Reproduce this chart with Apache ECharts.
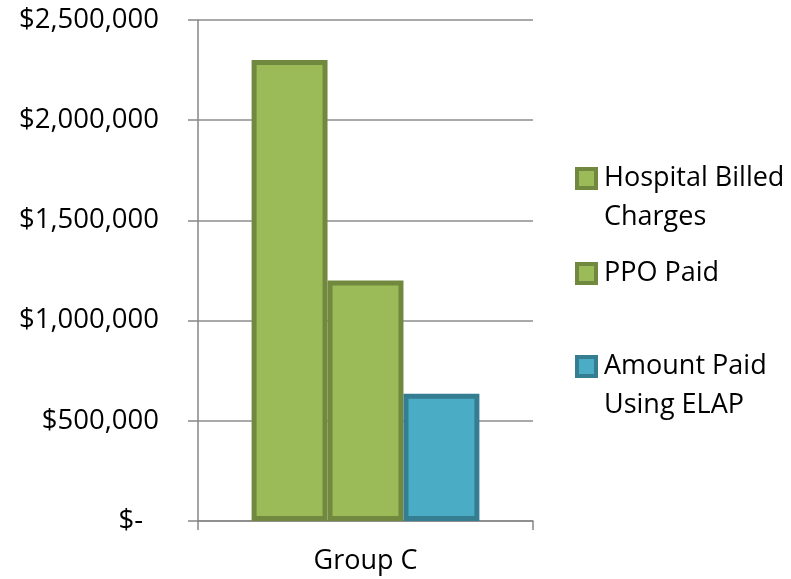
<!DOCTYPE html>
<html>
<head>
<meta charset="utf-8">
<style>
  html, body { margin: 0; padding: 0; background: #ffffff; }
  #chart { width: 791px; height: 579px; }
</style>
<script src="https://cdn.jsdelivr.net/npm/echarts@6/dist/echarts.min.js"></script>
</head>
<body>
<div id="chart"></div>
<script>
// Claim cost comparison for one group
const categories = ['Group C'];
const seriesNames = ['Hospital Billed Charges', 'PPO Paid', 'Amount Paid Using ELAP'];
const legendLabels = ['\nHospital Billed\nCharges', 'PPO Paid', '\nAmount Paid\nUsing ELAP'];
const hospitalBilled = [2300000];
const ppoPaid = [1200000];
const elapPaid = [635000];
const yTicks = { min: 0, max: 2500000, step: 500000 };

const FONT = 'Open Sans';
const fills = ['#9BBB59', '#9BBB59', '#4BACC6'];
const borders = ['#71893F', '#71893F', '#357D91'];
const values = [hospitalBilled, ppoPaid, elapPaid];

function money(v) {
  if (v === 0) return '{z|$-}';
  return '$' + v.toLocaleString('en-US');
}

const chart = echarts.init(document.getElementById('chart'));

const legendTops = [120, 254, 308];
const legends = seriesNames.map((name, i) => ({
  data: [name],
  orient: 'vertical',
  left: 575,
  top: legendTops[i],
  padding: 0,
  itemWidth: 19,
  itemHeight: 19,
  icon: 'rect',
  selectedMode: false,
  itemStyle: { borderWidth: 4 },
  formatter: () => legendLabels[i],
  textStyle: {
    fontFamily: FONT,
    fontSize: 27,
    color: '#000000',
    lineHeight: 39,
    padding: [0, 0, 0, 3]
  }
}));

chart.setOption({
  animation: false,
  backgroundColor: '#ffffff',
  legend: legends,
  grid: { left: 198, right: 258, top: 20, bottom: 58, containLabel: false },
  xAxis: {
    type: 'category',
    data: categories,
    boundaryGap: true,
    axisLine: { lineStyle: { color: '#868686', width: 1.5 } },
    axisTick: { show: true, length: 9, lineStyle: { color: '#868686', width: 1.5 } },
    axisLabel: { fontFamily: FONT, fontSize: 27, color: '#000000', margin: 27 }
  },
  yAxis: {
    type: 'value',
    min: yTicks.min,
    max: yTicks.max,
    interval: yTicks.step,
    axisLine: { show: true, lineStyle: { color: '#868686', width: 1.5 } },
    axisTick: { show: true, length: 10, inside: false, lineStyle: { color: '#868686', width: 1.5 } },
    splitLine: { show: true, lineStyle: { color: '#8C8C8C', width: 1.5 } },
    axisLabel: {
      fontFamily: FONT,
      fontSize: 27.5,
      color: '#000000',
      margin: 39,
      formatter: money,
      rich: { z: { fontFamily: FONT, fontSize: 27.5, color: '#000000', padding: [0, 16, 0, 0] } }
    }
  },
  series: seriesNames.map((name, i) => ({
    name: name,
    type: 'bar',
    data: values[i],
    barGap: '0%',
    barCategoryGap: '32%',
    itemStyle: { color: fills[i], borderColor: borders[i], borderWidth: 5 }
  }))
});
</script>
</body>
</html>
